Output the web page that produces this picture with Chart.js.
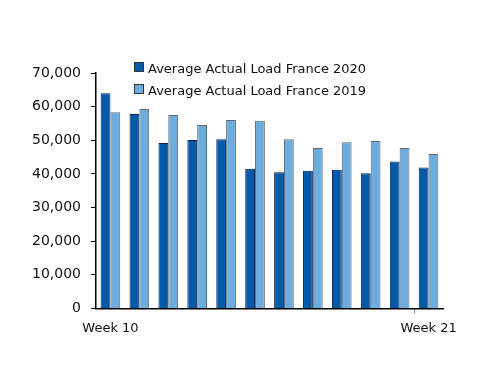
<!DOCTYPE html>
<html>
<head>
<meta charset="utf-8">
<script src="https://cdn.jsdelivr.net/npm/chart.js@4"></script>
<style>
  body { margin: 0; background: #fff; }
  #wrap { position: relative; width: 500px; height: 386px; }
  #legend { position: absolute; left: 134px; top: 59px; font: 13px "DejaVu Sans", sans-serif; color: #111; }
  #legend div { height: 22px; line-height: 20px; white-space: nowrap; }
  #legend span { display: inline-block; width: 8px; height: 8px; margin-right: 4px; border: 1px solid #333; vertical-align: 1px; }
</style>
</head>
<body>
<div id="wrap">
  <canvas id="chart" width="500" height="386"></canvas>
  <div id="legend"></div>
</div>
<script>
// 週ラベル
const weeks = ["Week 10", "Week 11", "Week 12", "Week 13", "Week 14", "Week 15",
  "Week 16", "Week 17", "Week 18", "Week 19", "Week 20", "Week 21"];
const load2020 = [64000, 57800, 49200, 50100, 50300, 41500, 40500, 40900, 41200, 40200, 43700, 41900];
const load2019 = [58300, 59300, 57500, 54500, 56000, 55800, 50300, 47700, 49400, 49800, 47700, 45900];
const seriesNames = ["Average Actual Load France 2020", "Average Actual Load France 2019"];
const colors = ["#005aa9", "#6cade0"];
const borders = ["#0b1d4f", "#666"];

const font = { family: "DejaVu Sans", size: 13 };

//凡例（HTML）
const legend = document.getElementById("legend");
seriesNames.forEach((name, i) => {
  const row = document.createElement("div");
  row.innerHTML = `<span style="background:${colors[i]}"></span>${name}`;
  legend.appendChild(row);
});

const ctx = document.getElementById("chart").getContext("2d");
new Chart(ctx, {
  type: "bar",
  data: {
    labels: weeks,
    datasets: [
      { label: seriesNames[0], data: load2020, backgroundColor: colors[0], borderColor: borders[0], borderWidth: 1 },
      { label: seriesNames[1], data: load2019, backgroundColor: colors[1], borderColor: borders[1], borderWidth: 1 },
    ],
  },
  options: {
    responsive: false,
    animation: false,
    layout: { padding: { left: 22, right: 57, top: 73, bottom: 43 } },
    datasets: { bar: { categoryPercentage: 0.68, barPercentage: 1 } },
    plugins: { legend: { display: false }, tooltip: { enabled: false } },
    scales: {
      x: {
        grid: {
          drawOnChartArea: false,
          tickLength: 5,
          color: (c) => (c.index === 11 ? "#888" : "rgba(0,0,0,0)"),
        },
        border: { color: "#000", width: 1.5 },
        ticks: {
          autoSkip: false,
          maxRotation: 0,
          color: "#111",
          font: font,
          padding: 7,
          callback: (v, i) => (i === 0 || i === weeks.length - 1 ? weeks[i] : ""),
        },
      },
      y: {
        min: 0,
        max: 70000,
        grid: { drawOnChartArea: false, tickLength: 5, color: "#000" },
        border: { color: "#000", width: 1.5 },
        ticks: {
          stepSize: 10000,
          color: "#111",
          font: { family: "DejaVu Sans", size: 14 },
          padding: 10,
          callback: (v) => v.toLocaleString("en-US"),
        },
      },
    },
  },
});
</script>
</body>
</html>
